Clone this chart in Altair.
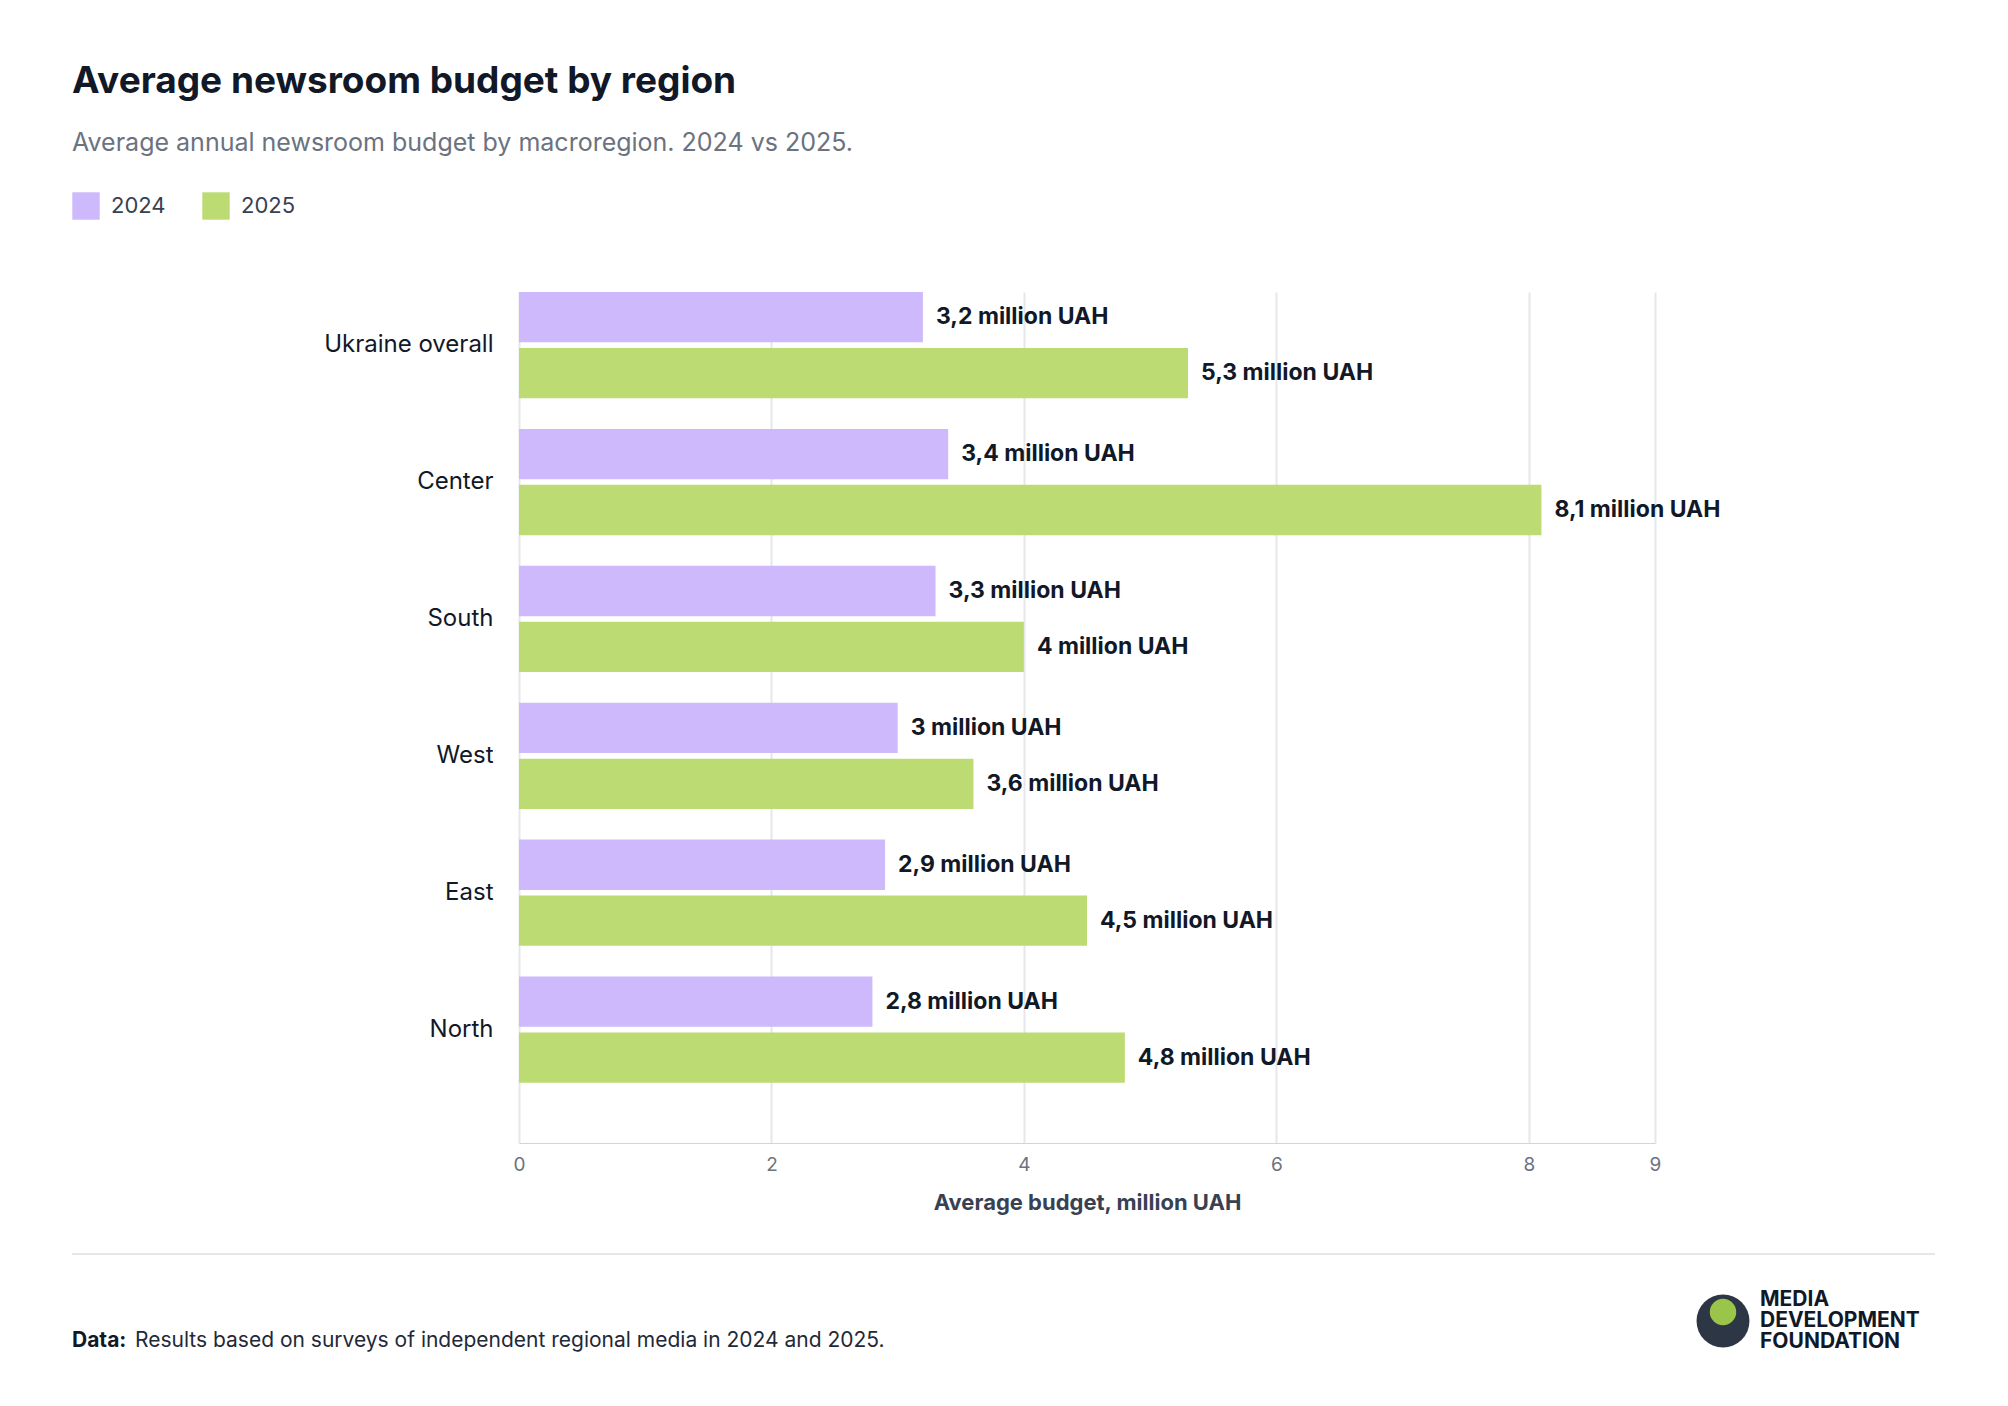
import altair as alt
import pandas as pd

regions = ["Ukraine overall", "Center", "South", "West", "East", "North"]
v2024 = [3.2, 3.4, 3.3, 3.0, 2.9, 2.8]
v2025 = [5.3, 8.1, 4.0, 3.6, 4.5, 4.8]
years = ["2024", "2025"]
colors = ["#cdb9fb", "#bcdb73"]

def lab(v):
    s = ("%g" % v).replace(".", ",")
    return f"{s} million UAH"

rows = []
for r, a, b in zip(regions, v2024, v2025):
    rows.append({"region": r, "year": "2024", "value": a, "label": lab(a)})
    rows.append({"region": r, "year": "2025", "value": b, "label": lab(b)})
df = pd.DataFrame(rows)

FONT = "Inter"
DARK = "#111827"

y = alt.Y("region:N", sort=regions, title=None,
          scale=alt.Scale(paddingInner=0.224, paddingOuter=0.22, align=0),
          axis=alt.Axis(labelFontSize=24, labelColor=DARK, labelFont=FONT, ticks=False,
                        domain=False, labelPadding=26, grid=False))
yoff = alt.YOffset("year:N", scale=alt.Scale(paddingInner=0.1, paddingOuter=0))
x = alt.X("value:Q", scale=alt.Scale(domain=[0, 9], nice=False),
          title="Average budget, million UAH",
          axis=alt.Axis(values=[0, 2, 4, 6, 8, 9], format="d", labelFlush=False,
                        labelFontSize=19, labelColor="#6b7280",
                        labelFont=FONT, titleFont=FONT, titleFontSize=22, titleColor="#374151",
                        titleFontWeight="bold", titlePadding=18, ticks=False, labelPadding=12,
                        domainColor="#d1d5db", gridColor="#e5e7eb", gridWidth=2))

base = alt.Chart(df)
bars = base.mark_bar().encode(
    x=x, y=y, yOffset=yoff,
    color=alt.Color("year:N", scale=alt.Scale(domain=years, range=colors), legend=None))
texts = base.mark_text(align="left", baseline="middle", dx=13, fontSize=23,
                       fontWeight="bold", font=FONT, color=DARK).encode(
    x="value:Q", y=alt.Y("region:N", sort=regions), yOffset=yoff, text="label:N")

def t(txt, xx, yy, size, weight="normal", color=DARK, align="left"):
    return alt.Chart(pd.DataFrame({"t": [txt]})).mark_text(
        align=align, baseline="middle", fontSize=size, fontWeight=weight,
        font=FONT, color=color).encode(text="t:N", x=alt.value(xx), y=alt.value(yy))

deco = [
    t("Average newsroom budget by region", -447, -210, 37, "bold"),
    t("Average annual newsroom budget by macroregion. 2024 vs 2025.", -447, -149, 25, color="#6b7280"),
    t("2024", -408, -86, 22, color="#374151"),
    t("2025", -278, -86, 22, color="#374151"),
    t("Data:", -447, 1049, 21, "bold"),
    t("Results based on surveys of independent regional media in 2024 and 2025.", -384, 1049, 21, color="#1f2937"),
    t("MEDIA", 1241, 1008, 21, "bold"),
    t("DEVELOPMENT", 1241, 1029, 21, "bold"),
    t("FOUNDATION", 1241, 1050, 21, "bold"),
]
sq1 = alt.Chart(pd.DataFrame({"a": [1]})).mark_square(size=750, opacity=1, color=colors[0]).encode(
    x=alt.value(-433), y=alt.value(-86))
sq2 = alt.Chart(pd.DataFrame({"a": [1]})).mark_square(size=750, opacity=1, color=colors[1]).encode(
    x=alt.value(-303), y=alt.value(-86))
line = alt.Chart(pd.DataFrame({"a": [1]})).mark_rule(color="#e5e7eb", strokeWidth=2).encode(
    x=alt.value(-447), x2=alt.value(1416), y=alt.value(962))
logo = alt.Chart(pd.DataFrame({"a": [1]})).mark_circle(size=2800, opacity=1, color="#2d3644").encode(
    x=alt.value(1204), y=alt.value(1029))
logo2 = alt.Chart(pd.DataFrame({"a": [1]})).mark_circle(size=700, opacity=1, color="#9bc44a").encode(
    x=alt.value(1204), y=alt.value(1020))

chart = alt.layer(bars, texts, sq1, sq2, line, logo, logo2, *deco).properties(
    width=1136, height=851, background="white",
    autosize=alt.AutoSizeParams(type="none"),
    padding={"left": 511, "top": 284, "right": 345, "bottom": 255},
).configure_view(stroke=None)

chart.save("out.html", embed_options={"renderer": "svg", "actions": False})
